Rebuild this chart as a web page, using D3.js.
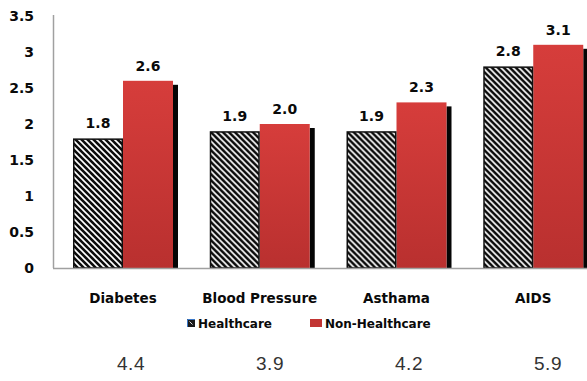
<!DOCTYPE html>
<html>
<head>
<meta charset="utf-8">
<script src="https://cdn.jsdelivr.net/npm/d3@7"></script>
<style>
  html, body { margin: 0; padding: 0; background: #ffffff; }
  svg { display: block; }
</style>
</head>
<body>
<svg id="chart" width="587" height="381"></svg>
<script>
// Chart data
const categories = ["Diabetes", "Blood Pressure", "Asthama", "AIDS"];
const seriesNames = ["Healthcare", "Non-Healthcare"];
const healthcare = [1.8, 1.9, 1.9, 2.8];
const nonHealthcare = [2.6, 2.0, 2.3, 3.1];
const yTicks = [0, 0.5, 1, 1.5, 2, 2.5, 3, 3.5];
const footerValues = [4.4, 3.9, 4.2, 5.9];

const svg = d3.select("#chart");
const boldFont = "'DejaVu Sans', Verdana, sans-serif";

// Fills: hatched pattern and red gradient
const defs = svg.append("defs");
const hatch = defs.append("pattern")
  .attr("id", "hatch")
  .attr("patternUnits", "userSpaceOnUse")
  .attr("width", 6).attr("height", 6);
hatch.append("rect").attr("width", 6).attr("height", 6).attr("fill", "#0c0c0c");
hatch.append("path")
  .attr("d", "M0,0 L6,6 M-3,3 L3,9 M3,-3 L9,3")
  .attr("stroke", "#ffffff").attr("stroke-width", 1.6);

const grad = defs.append("linearGradient")
  .attr("id", "redFill").attr("x1", 0).attr("y1", 0).attr("x2", 0).attr("y2", 1);
grad.append("stop").attr("offset", "0%").attr("stop-color", "#d63d3b");
grad.append("stop").attr("offset", "100%").attr("stop-color", "#b9302f");

// Scales
const y = d3.scaleLinear().domain([0, 3.5]).range([268, 16]);
const x0 = d3.scaleBand().domain(categories).range([53, 600]);
const x1 = d3.scaleBand().domain(seriesNames).range([20, 120]);
const xFooter = d3.scalePoint().domain(d3.range(footerValues.length)).range([131, 548]);

const rows = categories.map((c, i) => ({ cat: c, values: [healthcare[i], nonHealthcare[i]] }));

// Y axis labels
svg.append("g").selectAll("text")
  .data(yTicks).join("text")
  .attr("x", 34)
  .attr("y", d => y(d))
  .attr("dy", "0.36em")
  .attr("text-anchor", "end")
  .attr("font-family", boldFont)
  .attr("font-weight", "bold")
  .attr("font-size", 14)
  .attr("fill", "#0a0a0a")
  .text(d => d);

// Vertical axis line
svg.append("line")
  .attr("x1", 53.5).attr("x2", 53.5)
  .attr("y1", y(3.5) - 1).attr("y2", y(0))
  .attr("stroke", "#a0a0a0").attr("stroke-width", 1.5);

// Bars
const groups = svg.append("g").selectAll("g")
  .data(rows).join("g")
  .attr("transform", d => `translate(${x0(d.cat)},0)`);

// Drop shadow on the right of the red bars
groups.append("rect")
  .attr("x", x1("Non-Healthcare") + x1.bandwidth())
  .attr("y", d => y(d.values[1]) + 4)
  .attr("width", 5)
  .attr("height", d => y(0) - y(d.values[1]) - 4)
  .attr("fill", "#050505");

groups.append("rect")
  .attr("x", x1("Non-Healthcare"))
  .attr("y", d => y(d.values[1]))
  .attr("width", x1.bandwidth())
  .attr("height", d => y(0) - y(d.values[1]))
  .attr("fill", "url(#redFill)");

groups.append("rect")
  .attr("x", x1("Healthcare") + 0.75)
  .attr("y", d => y(d.values[0]) + 0.75)
  .attr("width", x1.bandwidth() - 1.5)
  .attr("height", d => y(0) - y(d.values[0]) - 0.75)
  .attr("fill", "url(#hatch)")
  .attr("stroke", "#101010")
  .attr("stroke-width", 1.5);

// Value labels
seriesNames.forEach((s, k) => {
  groups.append("text")
    .attr("x", x1(s) + x1.bandwidth() / 2)
    .attr("y", d => y(d.values[k]) - 10)
    .attr("text-anchor", "middle")
    .attr("font-family", boldFont)
    .attr("font-weight", "bold")
    .attr("font-size", 14)
    .attr("fill", "#0a0a0a")
    .text(d => d.values[k].toFixed(1));
});

// Baseline
svg.append("line")
  .attr("x1", 53).attr("x2", 587)
  .attr("y1", y(0) + 0.5).attr("y2", y(0) + 0.5)
  .attr("stroke", "#a0a0a0").attr("stroke-width", 1.5);

// Category labels
svg.append("g").selectAll("text")
  .data(categories).join("text")
  .attr("x", d => x0(d) + x1("Non-Healthcare"))
  .attr("y", 303)
  .attr("text-anchor", "middle")
  .attr("font-family", boldFont)
  .attr("font-weight", "bold")
  .attr("font-size", 13.5)
  .attr("fill", "#0a0a0a")
  .text(d => d);

// Legend
const legend = svg.append("g").attr("font-family", boldFont).attr("font-weight", "bold").attr("font-size", 12);
legend.append("rect").attr("x", 187).attr("y", 319).attr("width", 8).attr("height", 8).attr("fill", "#1a1a1a");
legend.append("path").attr("d", "M187.5,327 V319.5 H195").attr("fill", "none").attr("stroke", "#3a78c8").attr("stroke-width", 1);
legend.append("path").attr("d", "M189.5,321.5 L192.5,324.5").attr("stroke", "#ddd").attr("stroke-width", 1);
legend.append("text").attr("x", 198).attr("y", 328).attr("fill", "#0a0a0a").text(seriesNames[0]);
legend.append("rect").attr("x", 310).attr("y", 319).attr("width", 12).attr("height", 8).attr("fill", "#c23533");
legend.append("text").attr("x", 325).attr("y", 328).attr("fill", "#0a0a0a").text(seriesNames[1]);

// Footer values
svg.append("g").selectAll("text")
  .data(footerValues).join("text")
  .attr("x", (d, i) => xFooter(i))
  .attr("y", 370)
  .attr("text-anchor", "middle")
  .attr("font-family", "'Liberation Sans', Arial, sans-serif")
  .attr("font-size", 19)
  .attr("letter-spacing", 0.5)
  .attr("fill", "#333")
  .text(d => d.toFixed(1));
</script>
</body>
</html>
